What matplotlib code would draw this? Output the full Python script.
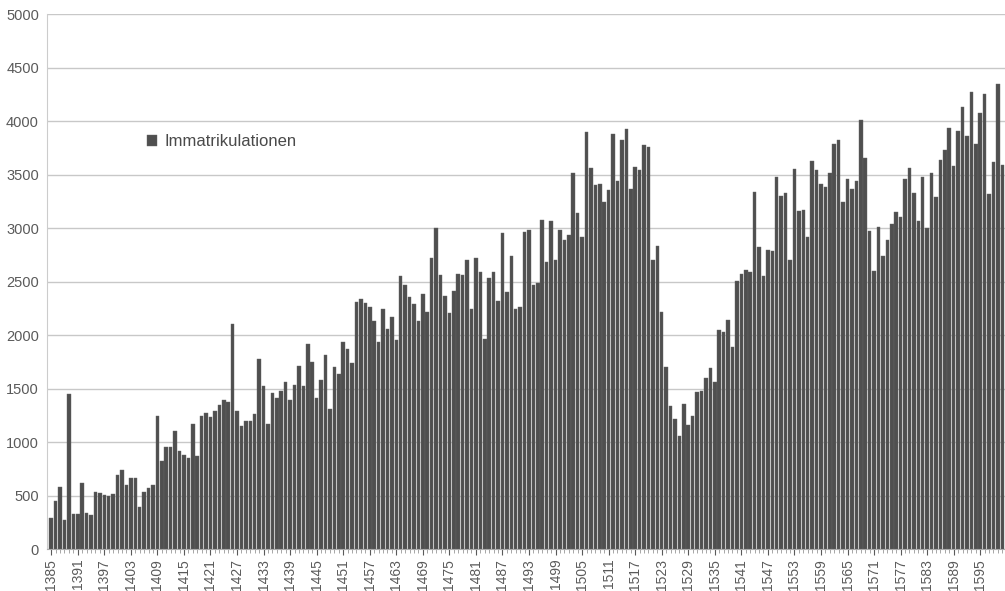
import numpy as np
import matplotlib
matplotlib.use("Agg")
import matplotlib.pyplot as plt
from matplotlib.ticker import MultipleLocator

plt.rcParams["font.family"] = ["Liberation Sans", "DejaVu Sans"]

# Immatrikulationen per year, 1385-1600
years = list(range(1385, 1601))
enrolments = [
    # 1385-1409
    290, 450, 580, 270, 1450, 330, 330, 620, 340, 320, 530, 520, 505, 495, 510,
    690, 740, 600, 665, 665, 390, 530, 575, 600, 1240,
    # 1410-1426
    820, 950, 950, 1100, 920, 880, 850, 1170, 870, 1240, 1270, 1230, 1290, 1350,
    1390, 1370, 2100,
    # 1427-1432
    1290, 1150, 1200, 1200, 1260, 1780,
    # 1433-1465
    1520, 1170, 1460, 1410, 1480, 1560, 1390, 1530, 1710, 1520, 1920, 1750, 1410,
    1580, 1810, 1310, 1700, 1640, 1940, 1870, 1740, 2310, 2340, 2300, 2260, 2130,
    1940, 2240, 2060, 2170, 1950, 2550, 2470,
    # 1466-1493
    2360, 2290, 2130, 2380, 2220, 2720, 3000, 2560, 2370, 2210, 2410, 2570, 2560,
    2700, 2240, 2720, 2590, 1960, 2530, 2590, 2320, 2950, 2400, 2740, 2240, 2260,
    2960, 2980,
    # 1494-1510
    2470, 2490, 3080, 2680, 3070, 2700, 2980, 2890, 2940, 3520, 3140, 2920, 3900,
    3560, 3400, 3410, 3240,
    # 1511-1546
    3360, 3880, 3440, 3820, 3930, 3370, 3570, 3540, 3780, 3760, 2700, 2830, 2220,
    1700, 1340, 1220, 1060, 1360, 1160, 1240, 1470, 1480, 1600, 1690, 1560, 2050,
    2030, 2140, 1890, 2510, 2570, 2610, 2590, 3340, 2820, 2550,
    # 1547-1600
    2800, 2790, 3480, 3300, 3330, 2700, 3550, 3160, 3170, 2920, 3630, 3540, 3410,
    3380, 3520, 3790, 3820, 3240, 3460, 3370, 3440, 4010, 3660, 2970, 2600, 3010,
    2740, 2890, 3040, 3150, 3100, 3460, 3560, 3330, 3070, 3480, 3000, 3520, 3290,
    3640, 3730, 3940, 3580, 3910, 4130, 3860, 4270, 3790, 4080, 4250, 3320, 3620,
    4350, 3590,
]
tick_years = list(range(1385, 1601, 6))
y_ticks = list(range(0, 5001, 500))
series_label = "Immatrikulationen"

fig = plt.figure(figsize=(10.05, 5.91), dpi=100)
ax = fig.add_axes([0.047, 0.071, 0.953, 0.905])

ax.bar(years, enrolments, width=0.8, color="#4f4f4f", edgecolor="#666666",
       linewidth=0.3, label=series_label, zorder=3)

ax.set_xlim(1384.1, 1600.6)
ax.set_ylim(0, 5000)
ax.set_yticks(y_ticks)
ax.set_xticks(tick_years)
ax.set_xticklabels([str(y) for y in tick_years], rotation=90)
ax.xaxis.set_minor_locator(MultipleLocator(1))

ax.grid(axis="y", color="#c8c8c8", linewidth=1.0, zorder=0)
ax.tick_params(axis="y", length=0, labelsize=10.5, colors="#5a5a5a", pad=6)
ax.tick_params(axis="x", which="major", length=4, labelsize=10,
               colors="#5a5a5a", pad=3)
ax.tick_params(axis="x", which="minor", length=3, color="#999999")

for side in ["top", "right"]:
    ax.spines[side].set_visible(False)
ax.spines["left"].set_color("#cccccc")
ax.spines["bottom"].set_color("#aaaaaa")

ax.legend(loc="center left", bbox_to_anchor=(0.131, 0.76),
          bbox_transform=fig.transFigure, frameon=False, fontsize=12,
          handlelength=0.65, handleheight=0.65, handletextpad=0.4,
          labelcolor="#4a4a4a")

plt.savefig("out.png", dpi=100)
plt.close()
